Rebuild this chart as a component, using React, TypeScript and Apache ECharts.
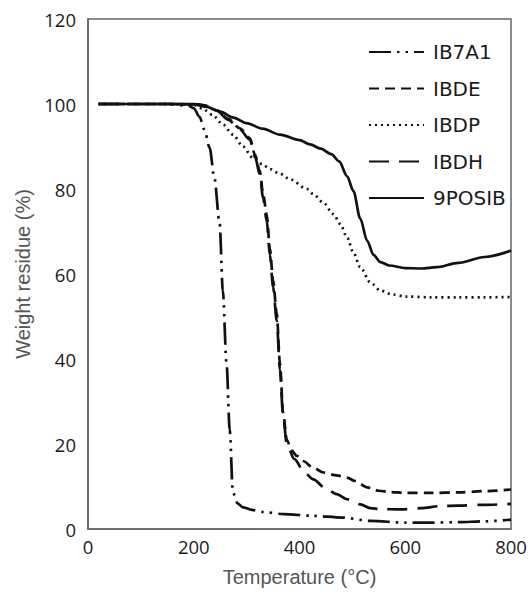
import React, { useEffect, useRef } from "react";
import * as echarts from "echarts";

const seriesNames = ["IB7A1", "IBDE", "IBDP", "IBDH", "9POSIB"];

const ib7a1T = [20, 150, 190, 200, 211, 220, 230, 239, 249, 255, 262, 268, 274, 283, 293, 310, 331, 370, 426, 480, 534, 600, 650, 700, 750, 800];
const ib7a1V = [100, 100, 99.6, 99, 97, 94, 89.7, 82.6, 71.8, 56.1, 39, 23.4, 8.6, 6, 5.1, 4.5, 4, 3.5, 3.1, 2.7, 1.9, 1.5, 1.5, 1.6, 1.8, 2.2];

const ibdeT = [20, 150, 200, 220, 243, 265, 287, 306, 316, 325, 331, 338, 344, 350, 357, 363, 369, 376, 385, 395, 407, 425, 445, 470, 490, 505, 528, 550, 572, 600, 650, 700, 750, 800];
const ibdeV = [100, 100, 100, 99.7, 98.5, 96.5, 94.3, 92, 88, 84.2, 79, 74, 66, 58.5, 50.7, 39, 27.4, 21, 18.5, 17.2, 16, 14.5, 13.3, 12.6, 12.1, 11.3, 9.8, 9, 8.7, 8.5, 8.5, 8.6, 8.9, 9.3];

const ibdpT = [20, 150, 200, 215, 235, 255, 274, 293, 312, 330, 344, 363, 382, 414, 426, 445, 464, 477, 490, 502, 515, 534, 553, 575, 600, 650, 700, 750, 800];
const ibdpV = [100, 100, 99.8, 99, 97.5, 95.2, 92.8, 90, 87.3, 85.8, 84.7, 83.6, 82.3, 80, 78.8, 76.8, 74.1, 71.8, 68.6, 65, 61.6, 58, 56.1, 55.2, 54.7, 54.5, 54.5, 54.5, 54.6];

const ibdhT = [20, 150, 200, 220, 243, 265, 287, 306, 316, 325, 331, 338, 344, 350, 357, 363, 369, 376, 390, 410, 426, 450, 470, 490, 515, 534, 553, 591, 630, 667, 700, 750, 800];
const ibdhV = [100, 100, 100, 99.7, 98.5, 96.3, 94, 91.6, 87.5, 83.5, 78, 72.5, 64.5, 57, 49, 37.5, 26.5, 20, 16.5, 13.2, 11.7, 9.5, 8.2, 7, 5.8, 4.9, 4.7, 4.6, 4.9, 5.4, 5.5, 5.7, 5.9];

const posibT = [20, 150, 200, 225, 250, 275, 300, 330, 363, 400, 420, 440, 460, 475, 490, 502, 515, 528, 540, 553, 570, 600, 630, 660, 700, 750, 800];
const posibV = [100, 100, 99.9, 99.3, 98.2, 96.8, 95.5, 94.2, 92.8, 91.5, 90.5, 89.5, 88.2, 86.5, 83, 79.5, 73, 67.8, 64.5, 62.8, 62, 61.4, 61.3, 61.6, 62.6, 64, 65.5];

const xTicks = [0, 200, 400, 600, 800];
const yTicks = [0, 20, 40, 60, 80, 100, 120];

const zip = (t: number[], v: number[]) => t.map((x, i) => [x, v[i]]);

const dashes: Record<string, number[] | "solid"> = {
  IB7A1: [22, 6, 2.5, 6, 2.5, 6],
  IBDE: [10, 6],
  IBDP: [2, 4],
  IBDH: [20, 10],
  "9POSIB": "solid",
};

const dataMap: Record<string, number[][]> = {
  IB7A1: zip(ib7a1T, ib7a1V),
  IBDE: zip(ibdeT, ibdeV),
  IBDP: zip(ibdpT, ibdpV),
  IBDH: zip(ibdhT, ibdhV),
  "9POSIB": zip(posibT, posibV),
};

export default function App() {
  const ref = useRef<HTMLDivElement>(null);
  useEffect(() => {
    if (!ref.current) return;
    const chart = echarts.init(ref.current, undefined, { renderer: "svg" });
    chart.setOption({
      animation: false,
      backgroundColor: "#fff",
      grid: {
        left: 88,
        right: 20,
        top: 19,
        bottom: 67,
        show: true,
        borderColor: "#666",
        borderWidth: 1.5,
      },
      legend: {
        orient: "vertical",
        left: 368,
        top: 42,
        padding: 0,
        itemWidth: 55,
        itemHeight: 14,
        itemGap: 16.5,
        data: seriesNames,
        itemStyle: { color: "rgba(0,0,0,0)", borderWidth: 0, opacity: 0 },
        textStyle: {
          fontFamily: "DejaVu Sans",
          fontSize: 20,
          color: "#1a1a1a",
          lineHeight: 20,
          padding: [0, 0, 0, 4],
        },
      },
      xAxis: {
        type: "value",
        min: 0,
        max: 800,
        interval: 200,
        name: "Temperature (°C)",
        nameLocation: "middle",
        nameGap: 38,
        nameTextStyle: { fontFamily: "Liberation Sans", fontSize: 20, color: "#555" },
        axisLine: { show: true, lineStyle: { color: "#666", width: 1.5 } },
        axisTick: { show: false },
        splitLine: { show: false },
        axisLabel: {
          fontFamily: "Open Sans",
          fontSize: 18.5,
          fontWeight: 500,
          color: "#1a1a1a",
          margin: 8,
          customValues: xTicks,
        },
      },
      yAxis: {
        type: "value",
        min: 0,
        max: 120,
        interval: 20,
        name: "Weight residue (%)",
        nameLocation: "middle",
        nameGap: 46,
        nameTextStyle: { fontFamily: "Liberation Sans", fontSize: 20, color: "#555" },
        axisLine: { show: true, lineStyle: { color: "#666", width: 1.5 } },
        axisTick: { show: false },
        splitLine: { show: false },
        axisLabel: {
          fontFamily: "Open Sans",
          fontSize: 18.5,
          fontWeight: 500,
          color: "#1a1a1a",
          margin: 12,
          customValues: yTicks,
        },
      },
      series: seriesNames.map((n) => ({
        name: n,
        type: "line",
        data: dataMap[n],
        showSymbol: false,
        symbol: "none",
        smooth: 0.3,
        smoothMonotone: "x",
        lineStyle: { color: "#111", width: 2.7, type: dashes[n], cap: "butt" },
        itemStyle: { color: "#111" },
      })),
    });
    return () => chart.dispose();
  }, []);
  return <div ref={ref} style={{ width: 531, height: 596, position: "absolute", left: 0, top: 0 }} />;
}
